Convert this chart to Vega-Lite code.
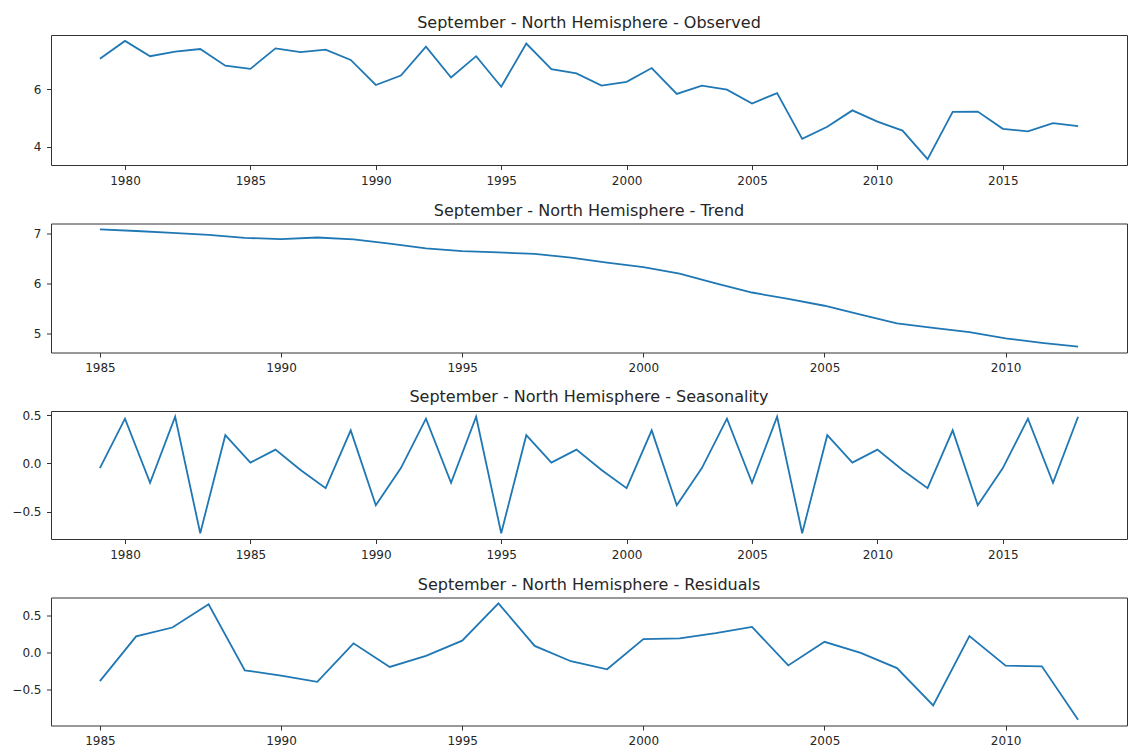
{
  "$schema": "https://vega.github.io/schema/vega-lite/v6.json",
  "padding": {"left": 11, "top": 14, "right": 0, "bottom": 0},
  "spacing": 58.5,
  "bounds": "flush",
  "datasets": {
    "observed": [
      {"year": 1979, "value": 7.05}, {"year": 1980, "value": 7.67}, {"year": 1981, "value": 7.14},
      {"year": 1982, "value": 7.30}, {"year": 1983, "value": 7.39}, {"year": 1984, "value": 6.81},
      {"year": 1985, "value": 6.70}, {"year": 1986, "value": 7.41}, {"year": 1987, "value": 7.28},
      {"year": 1988, "value": 7.37}, {"year": 1989, "value": 7.01}, {"year": 1990, "value": 6.14},
      {"year": 1991, "value": 6.47}, {"year": 1992, "value": 7.47}, {"year": 1993, "value": 6.40},
      {"year": 1994, "value": 7.14}, {"year": 1995, "value": 6.08}, {"year": 1996, "value": 7.58},
      {"year": 1997, "value": 6.69}, {"year": 1998, "value": 6.54}, {"year": 1999, "value": 6.12},
      {"year": 2000, "value": 6.25}, {"year": 2001, "value": 6.73}, {"year": 2002, "value": 5.83},
      {"year": 2003, "value": 6.12}, {"year": 2004, "value": 5.98}, {"year": 2005, "value": 5.50},
      {"year": 2006, "value": 5.86}, {"year": 2007, "value": 4.27}, {"year": 2008, "value": 4.69},
      {"year": 2009, "value": 5.26}, {"year": 2010, "value": 4.87}, {"year": 2011, "value": 4.56},
      {"year": 2012, "value": 3.57}, {"year": 2013, "value": 5.21}, {"year": 2014, "value": 5.22},
      {"year": 2015, "value": 4.62}, {"year": 2016, "value": 4.53}, {"year": 2017, "value": 4.82},
      {"year": 2018, "value": 4.71}
    ],
    "trend": [
      {"year": 1985, "value": 7.082}, {"year": 1986, "value": 7.049}, {"year": 1987, "value": 7.010},
      {"year": 1988, "value": 6.973}, {"year": 1989, "value": 6.911}, {"year": 1990, "value": 6.889},
      {"year": 1991, "value": 6.920}, {"year": 1992, "value": 6.884}, {"year": 1993, "value": 6.799},
      {"year": 1994, "value": 6.704}, {"year": 1995, "value": 6.646}, {"year": 1996, "value": 6.621},
      {"year": 1997, "value": 6.594}, {"year": 1998, "value": 6.517}, {"year": 1999, "value": 6.418},
      {"year": 2000, "value": 6.327}, {"year": 2001, "value": 6.198}, {"year": 2002, "value": 6.002},
      {"year": 2003, "value": 5.822}, {"year": 2004, "value": 5.693}, {"year": 2005, "value": 5.558},
      {"year": 2006, "value": 5.382}, {"year": 2007, "value": 5.207}, {"year": 2008, "value": 5.118},
      {"year": 2009, "value": 5.030}, {"year": 2010, "value": 4.907}, {"year": 2011, "value": 4.818},
      {"year": 2012, "value": 4.742}
    ],
    "seasonal": [
      {"year": 1979, "value": -0.049}, {"year": 1980, "value": 0.464}, {"year": 1981, "value": -0.202},
      {"year": 1982, "value": 0.484}, {"year": 1983, "value": -0.725}, {"year": 1984, "value": 0.293},
      {"year": 1985, "value": 0.008}, {"year": 1986, "value": 0.143}, {"year": 1987, "value": -0.068},
      {"year": 1988, "value": -0.257}, {"year": 1989, "value": 0.343}, {"year": 1990, "value": -0.434},
      {"year": 1991, "value": -0.049}, {"year": 1992, "value": 0.464}, {"year": 1993, "value": -0.202},
      {"year": 1994, "value": 0.484}, {"year": 1995, "value": -0.725}, {"year": 1996, "value": 0.293},
      {"year": 1997, "value": 0.008}, {"year": 1998, "value": 0.143}, {"year": 1999, "value": -0.068},
      {"year": 2000, "value": -0.257}, {"year": 2001, "value": 0.343}, {"year": 2002, "value": -0.434},
      {"year": 2003, "value": -0.049}, {"year": 2004, "value": 0.464}, {"year": 2005, "value": -0.202},
      {"year": 2006, "value": 0.484}, {"year": 2007, "value": -0.725}, {"year": 2008, "value": 0.293},
      {"year": 2009, "value": 0.008}, {"year": 2010, "value": 0.143}, {"year": 2011, "value": -0.068},
      {"year": 2012, "value": -0.257}, {"year": 2013, "value": 0.343}, {"year": 2014, "value": -0.434},
      {"year": 2015, "value": -0.049}, {"year": 2016, "value": 0.464}, {"year": 2017, "value": -0.202},
      {"year": 2018, "value": 0.484}
    ],
    "residuals": [
      {"year": 1985, "value": -0.390}, {"year": 1986, "value": 0.218}, {"year": 1987, "value": 0.338},
      {"year": 1988, "value": 0.654}, {"year": 1989, "value": -0.244}, {"year": 1990, "value": -0.316},
      {"year": 1991, "value": -0.401}, {"year": 1992, "value": 0.123}, {"year": 1993, "value": -0.198},
      {"year": 1994, "value": -0.048}, {"year": 1995, "value": 0.159}, {"year": 1996, "value": 0.667},
      {"year": 1997, "value": 0.088}, {"year": 1998, "value": -0.120}, {"year": 1999, "value": -0.230},
      {"year": 2000, "value": 0.180}, {"year": 2001, "value": 0.190}, {"year": 2002, "value": 0.262},
      {"year": 2003, "value": 0.347}, {"year": 2004, "value": -0.177}, {"year": 2005, "value": 0.144},
      {"year": 2006, "value": -0.006}, {"year": 2007, "value": -0.213}, {"year": 2008, "value": -0.721},
      {"year": 2009, "value": 0.222}, {"year": 2010, "value": -0.180}, {"year": 2011, "value": -0.190},
      {"year": 2012, "value": -0.915}
    ]
  },
  "vconcat": [
    {
      "title": "September - North Hemisphere - Observed",
      "width": 1076,
      "height": 130,
      "data": {"name": "observed"},
      "mark": {"type": "line"},
      "encoding": {
        "x": {"field": "year", "type": "quantitative", "title": null,
              "scale": {"domain": [1977.05, 2019.95], "nice": false, "zero": false},
              "axis": {"values": [1980, 1985, 1990, 1995, 2000, 2005, 2010, 2015], "format": "d"}},
        "y": {"field": "value", "type": "quantitative", "title": null,
              "scale": {"domain": [3.365, 7.875], "nice": false, "zero": false},
              "axis": {"values": [4, 6], "format": "d"}}
      }
    },
    {
      "title": "September - North Hemisphere - Trend",
      "width": 1076,
      "height": 129,
      "data": {"name": "trend"},
      "mark": {"type": "line"},
      "encoding": {
        "x": {"field": "year", "type": "quantitative", "title": null,
              "scale": {"domain": [1983.65, 2013.35], "nice": false, "zero": false},
              "axis": {"values": [1985, 1990, 1995, 2000, 2005, 2010], "format": "d"}},
        "y": {"field": "value", "type": "quantitative", "title": null,
              "scale": {"domain": [4.625, 7.199], "nice": false, "zero": false},
              "axis": {"values": [5, 6, 7], "format": "d"}}
      }
    },
    {
      "title": "September - North Hemisphere - Seasonality",
      "width": 1076,
      "height": 128,
      "data": {"name": "seasonal"},
      "mark": {"type": "line"},
      "encoding": {
        "x": {"field": "year", "type": "quantitative", "title": null,
              "scale": {"domain": [1977.05, 2019.95], "nice": false, "zero": false},
              "axis": {"values": [1980, 1985, 1990, 1995, 2000, 2005, 2010, 2015], "format": "d"}},
        "y": {"field": "value", "type": "quantitative", "title": null,
              "scale": {"domain": [-0.785, 0.544], "nice": false, "zero": false},
              "axis": {"values": [-0.5, 0, 0.5], "format": ".1f"}}
      }
    },
    {
      "title": "September - North Hemisphere - Residuals",
      "width": 1076,
      "height": 128,
      "data": {"name": "residuals"},
      "mark": {"type": "line"},
      "encoding": {
        "x": {"field": "year", "type": "quantitative", "title": null,
              "scale": {"domain": [1983.65, 2013.35], "nice": false, "zero": false},
              "axis": {"values": [1985, 1990, 1995, 2000, 2005, 2010], "format": "d"}},
        "y": {"field": "value", "type": "quantitative", "title": null,
              "scale": {"domain": [-0.994, 0.746], "nice": false, "zero": false},
              "axis": {"values": [-0.5, 0, 0.5], "format": ".1f"}}
      }
    }
  ],
  "config": {
    "background": "white",
    "view": {"stroke": "#333333", "strokeWidth": 1},
    "axis": {
      "grid": false,
      "domain": false,
      "ticks": true,
      "tickColor": "#333333",
      "tickWidth": 1,
      "tickSize": 4.5,
      "labelFont": "DejaVu Sans",
      "labelFontSize": 12,
      "labelColor": "#262626",
      "labelPadding": 5.5,
      "labelFlush": false,
      "labelOverlap": false
    },
    "title": {
      "font": "DejaVu Sans",
      "fontSize": 16,
      "fontWeight": "normal",
      "color": "#262626",
      "offset": 4.5
    },
    "line": {"color": "#1f77b4", "strokeWidth": 1.8}
  }
}
